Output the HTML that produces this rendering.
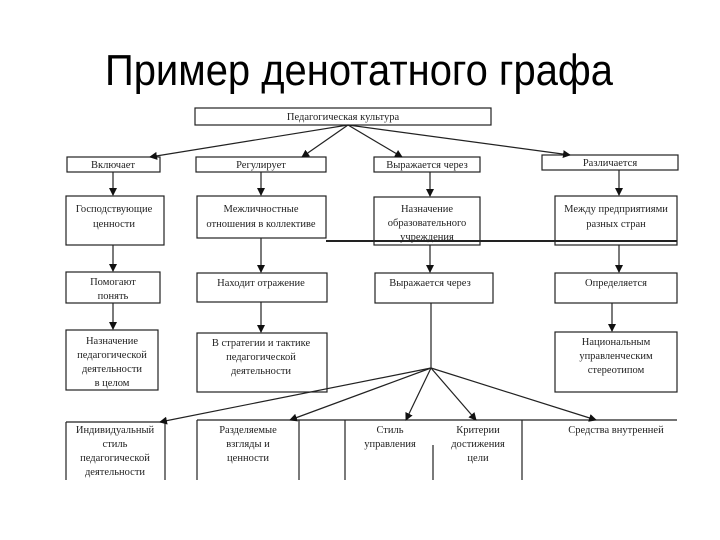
<!DOCTYPE html>
<html><head><meta charset="utf-8"><style>
html,body{margin:0;padding:0;background:#fff;}
svg{display:block}
text{font-family:"Liberation Serif",serif;font-size:10.5px;fill:#222;text-anchor:middle}
.t{font-family:"Liberation Sans",sans-serif;font-size:44px;fill:#000;text-anchor:start}
</style></head><body>
<svg width="720" height="540" viewBox="0 0 720 540" xmlns="http://www.w3.org/2000/svg">
<defs><marker id="a" markerWidth="8" markerHeight="8" refX="7" refY="4" orient="auto" markerUnits="userSpaceOnUse"><path d="M0,0 L8,4 L0,8 z" fill="#111"/></marker></defs>
<text class="t" x="105" y="85" textLength="508" lengthAdjust="spacingAndGlyphs">Пример денотатного графа</text>
<g fill="none" stroke="#222" stroke-width="1.2">
<rect x="195" y="108" width="296" height="17"/>
<rect x="67" y="157" width="93" height="15"/>
<rect x="196" y="157" width="130" height="15"/>
<rect x="374" y="157" width="106" height="15"/>
<rect x="542" y="155" width="136" height="15"/>
<rect x="66" y="196" width="98" height="49"/>
<rect x="197" y="196" width="129" height="42"/>
<rect x="374" y="197" width="106" height="48"/>
<rect x="555" y="196" width="122" height="49"/>
<line x1="326" y1="241" x2="677" y2="241" stroke-width="2"/>
<rect x="66" y="272" width="94" height="31"/>
<rect x="197" y="273" width="130" height="29"/>
<rect x="375" y="273" width="118" height="30"/>
<rect x="555" y="273" width="122" height="30"/>
<rect x="66" y="330" width="92" height="60"/>
<rect x="197" y="333" width="130" height="59"/>
<rect x="555" y="332" width="122" height="60"/>
<path d="M66,422 V480 M165,422 V480 M66,422 H165"/>
<path d="M197,420 H677 M197,420 V480 M299,420 V480 M345,420 V480 M433,445 V480 M522,420 V480"/>
<!-- vertical arrows -->
<g marker-end="url(#a)">
<line x1="113" y1="172" x2="113" y2="195"/>
<line x1="261" y1="172" x2="261" y2="195"/>
<line x1="430" y1="172" x2="430" y2="196"/>
<line x1="619" y1="170" x2="619" y2="195"/>
<line x1="113" y1="245" x2="113" y2="271"/>
<line x1="261" y1="238" x2="261" y2="272"/>
<line x1="430" y1="245" x2="430" y2="272"/>
<line x1="619" y1="245" x2="619" y2="272"/>
<line x1="113" y1="303" x2="113" y2="329"/>
<line x1="261" y1="302" x2="261" y2="332"/>
<line x1="612" y1="303" x2="612" y2="331"/>
<line x1="348" y1="125" x2="150" y2="157"/>
<line x1="348" y1="125" x2="302" y2="157"/>
<line x1="348" y1="125" x2="402" y2="157"/>
<line x1="348" y1="125" x2="570" y2="155"/>
<line x1="431" y1="368" x2="160" y2="422"/>
<line x1="431" y1="368" x2="290" y2="420"/>
<line x1="431" y1="368" x2="406" y2="420"/>
<line x1="431" y1="368" x2="476" y2="420"/>
<line x1="431" y1="368" x2="596" y2="420"/>
</g>
<line x1="431" y1="303" x2="431" y2="368"/>
</g>
<text x="343" y="120">Педагогическая культура</text>
<text x="113" y="168">Включает</text>
<text x="261" y="168">Регулирует</text>
<text x="427" y="168">Выражается через</text>
<text x="610" y="166">Различается</text>
<text x="114" y="212">Господствующие</text><text x="114" y="227">ценности</text>
<text x="261" y="212">Межличностные</text><text x="261" y="227">отношения в коллективе</text>
<text x="427" y="212">Назначение</text><text x="427" y="226">образовательного</text><text x="427" y="240">учреждения</text>
<text x="616" y="212">Между предприятиями</text><text x="616" y="227">разных стран</text>
<text x="113" y="285">Помогают</text><text x="113" y="299">понять</text>
<text x="261" y="286">Находит отражение</text>
<text x="430" y="286">Выражается через</text>
<text x="616" y="286">Определяется</text>
<text x="112" y="344">Назначение</text><text x="112" y="358">педагогической</text><text x="112" y="372">деятельности</text><text x="112" y="386">в целом</text>
<text x="261" y="346">В стратегии и тактике</text><text x="261" y="360">педагогической</text><text x="261" y="374">деятельности</text>
<text x="616" y="345">Национальным</text><text x="616" y="359">управленческим</text><text x="616" y="373">стереотипом</text>
<text x="115" y="433">Индивидуальный</text><text x="115" y="447">стиль</text><text x="115" y="461">педагогической</text><text x="115" y="475">деятельности</text>
<text x="248" y="433">Разделяемые</text><text x="248" y="447">взгляды и</text><text x="248" y="461">ценности</text>
<text x="390" y="433">Стиль</text><text x="390" y="447">управления</text>
<text x="478" y="433">Критерии</text><text x="478" y="447">достижения</text><text x="478" y="461">цели</text>
<text x="616" y="433">Средства внутренней</text>
</svg>
</body></html>
